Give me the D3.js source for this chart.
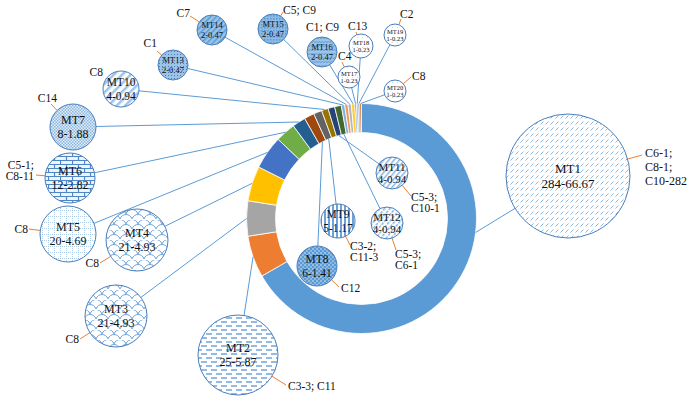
<!DOCTYPE html>
<html><head><meta charset="utf-8">
<script src="https://cdn.jsdelivr.net/npm/d3@7"></script>
<style>html,body{margin:0;padding:0;background:#fff;} svg{display:block;font-family:"Liberation Serif","Times New Roman",serif;}</style>
</head><body><svg id="c" width="690" height="402"></svg>
<script>
// ---- data ----
const types = ["MT1","MT2","MT3","MT4","MT5","MT6","MT7","MT8","MT9","MT10","MT11","MT12","MT13","MT14","MT15","MT16","MT17","MT18","MT19","MT20"];
const counts = [284,25,21,21,20,12,8,6,5,4,4,4,2,2,2,2,1,1,1,1];
const percents = ["66.67","5.87","4.93","4.93","4.69","2.82","1.88","1.41","1.17","0.94","0.94","0.94","0.47","0.47","0.47","0.47","0.23","0.23","0.23","0.23"];
const clusterLabels = [["C6-1;","C8-1;","C10-282"],["C3-3; C11"],["C8"],["C8"],["C8"],["C5-1;","C8-11"],["C14"],["C12"],["C3-2;","C11-3"],["C8"],["C5-3;","C10-1"],["C5-3;","C6-1"],["C1"],["C7"],["C5; C9"],["C1; C9"],["C4"],["C13"],["C2"],["C8"]];
const sliceColors = ["#5B9BD5","#ED7D31","#A5A5A5","#FFC000","#4472C4","#70AD47","#255E91","#9E480E","#636363","#997300","#264478","#43682B","#7CAFDD","#F1975A","#B7B7B7","#FFCD33","#698ED0","#8CC168","#327DC2","#D26012"];

// ---- layout (positions / styles) ----
const ring = {cx:361.5, cy:218.5, rIn:86, rOut:115};
const layout = [
 {cx:568, cy:176, r:62, fs:13, lab:[645,157,"start"], lh:14, lead:[642,155], at:0.404},
 {cx:238, cy:355, r:40, fs:12, lab:[288,390,"start"], lh:11, lead:[286,385]},
 {cx:116, cy:316, r:31, fs:12, lab:[79,343,"end"], lh:11, lead:[80,339]},
 {cx:137, cy:240, r:31, fs:12, lab:[99,267,"end"], lh:11, lead:[100,263]},
 {cx:68, cy:234, r:28, fs:12, lab:[28,233,"end"], lh:11, lead:[29,229]},
 {cx:70, cy:178, r:25, fs:12, lab:[34,169,"end"], lh:10.5, lead:[36,175]},
 {cx:73, cy:127, r:23, fs:12, lab:[57,102,"end"], lh:11, lead:[51,104]},
 {cx:317, cy:266, r:20, fs:11.5, lab:[341,292,"start"], lh:11, lead:[339,287], inner:true},
 {cx:338, cy:221, r:17, fs:11.5, lab:[350,250,"start"], lh:11, lead:[350,245], inner:true},
 {cx:121, cy:89, r:18, fs:11.5, lab:[103,76,"end"], lh:11, lead:[105,79]},
 {cx:392, cy:173, r:16, fs:11, lab:[411,201,"start"], lh:11, lead:[411,196], inner:true},
 {cx:387, cy:223, r:16, fs:11, lab:[395,258,"start"], lh:10.5, lead:[396,250], inner:true},
 {cx:173, cy:65, r:15, fs:8.5, lab:[157,47,"end"], lh:11, lead:[157,51]},
 {cx:212, cy:30, r:15, fs:8.5, lab:[190,17,"end"], lh:11, lead:[190,16]},
 {cx:273, cy:29, r:15, fs:8.5, lab:[283,14,"start"], lh:11, lead:[283,12]},
 {cx:322, cy:52, r:15, fs:8.5, lab:[306,31,"start"], lh:11, lead:null},
 {cx:349, cy:77, r:11, fs:6.5, lab:[338,60,"start"], lh:11, lead:[342,62]},
 {cx:361, cy:46, r:12, fs:6.5, lab:[348,30,"start"], lh:11, lead:[356,32]},
 {cx:395, cy:35, r:11, fs:6.5, lab:[400,18,"start"], lh:11, lead:[401,19]},
 {cx:395, cy:91, r:11, fs:6.5, lab:[412,80,"start"], lh:11, lead:[411,77]}
];
const LB = "#5B9BD5", OUT = "#4a7ebb", ORANGE = "#ED7D31";

const svg = d3.select("#c");
const defs = svg.append("defs");

function pat(id, w, h, bg, fn, tr){
  const p = defs.append("pattern").attr("id",id).attr("patternUnits","userSpaceOnUse").attr("width",w).attr("height",h);
  if(tr) p.attr("patternTransform",tr);
  p.append("rect").attr("width",w).attr("height",h).attr("fill",bg);
  fn(p);
}
const P = (p,d,c,sw,extra)=>{const e=p.append("path").attr("d",d).attr("fill","none").attr("stroke",c).attr("stroke-width",sw); if(extra) e.attr("stroke-dasharray",extra); return e;};
pat("p0",5,6,"#fff",p=>P(p,"M0.5,4.5 L3.5,1.5","#8ab6e0",1));
pat("p1",10,8,"#fff",p=>P(p,"M1,2h6M-4,6h6M6,6h6","#6fa3d8",1.3));
const shingle = p=>P(p,"M0,9 C2,3 10,3 12,9 M-6,4 C-4,-2 4,-2 6,4 M6,4 C8,-2 16,-2 18,4","#6fa3d8",1);
pat("p2",12,10,"#fff",shingle);
pat("p3",12,10,"#fff",shingle);
pat("p4",6,6,"#fff",p=>P(p,"M0,0.5h6M0.5,0v6","#9dc3e6",0.8,"1,1"));
pat("p5",12,8,"#eef4fb",p=>P(p,"M0,0.5h12M0,4.5h12M0.5,0.5v4M6.5,4.5v4","#4f86c6",1.2));
pat("p6",3,3,"#e3eef9",p=>{p.append("rect").attr("width",1.5).attr("height",1.5).attr("fill","#8ab6e0");p.append("rect").attr("x",1.5).attr("y",1.5).attr("width",1.5).attr("height",1.5).attr("fill","#8ab6e0");});
pat("p7",4,4,"#5B9BD5",p=>{p.append("circle").attr("cx",1).attr("cy",1).attr("r",0.7).attr("fill","#fff");p.append("circle").attr("cx",3).attr("cy",3).attr("r",0.7).attr("fill","#dfeaf6");});
pat("p8",4,4,"#fff",p=>p.append("rect").attr("width",2).attr("height",4).attr("fill","#6fa3d8"));
pat("p9",6,6,"#fff",p=>p.append("rect").attr("width",2.5).attr("height",6).attr("fill","#9dc3e6"),"rotate(45)");
pat("p10",4,4,"#fff",p=>p.append("rect").attr("width",1.5).attr("height",4).attr("fill","#8ab6e0"),"rotate(40)");
pat("p11",4,4,"#fff",p=>p.append("rect").attr("width",1.5).attr("height",3).attr("fill","#8ab6e0"),"rotate(40)");
pat("p12",3,3,"#9dc3e6",p=>p.append("rect").attr("width",1).attr("height",1).attr("fill","#4a7ebb"));
pat("p13",4,4,"#9dc3e6",p=>p.append("rect").attr("width",1.5).attr("height",4).attr("fill","#5B9BD5"),"rotate(45)");
pat("p14",3,3,"#8dbbe4",p=>{p.append("rect").attr("width",1.5).attr("height",1.5).attr("fill","#5B9BD5");});
pat("p15",6,4,"#9dc3e6",p=>P(p,"M0,3 L1.5,1 L3,3 L4.5,1 L6,3","#5B9BD5",0.8));
for(let i=16;i<20;i++) pat("p"+i,5,5,"#fff",p=>p.append("rect").attr("x",2).attr("y",2).attr("width",0.8).attr("height",0.8).attr("fill","#9dc3e6"));

// ---- donut ----
const pie = d3.pie().sort(null).value(d=>d);
const arcs = pie(counts);
const arc = d3.arc().innerRadius(ring.rIn).outerRadius(ring.rOut);
const g = svg.append("g").attr("transform",`translate(${ring.cx},${ring.cy})`);
g.selectAll("path").data(arcs).join("path").attr("d",arc)
  .attr("fill",(d,i)=>sliceColors[i]).attr("stroke","#fff").attr("stroke-width",0.8);

// ---- connectors ----
const ptOnRing = (a,r)=>[ring.cx + r*Math.sin(a), ring.cy - r*Math.cos(a)];
const conn = svg.append("g");
arcs.forEach((d,i)=>{
  const L = layout[i];
  const f = L.at!==undefined ? L.at : 0.5;
  const a = d.startAngle + (d.endAngle-d.startAngle)*f;
  const [ax,ay] = ptOnRing(a, L.inner ? ring.rIn : ring.rOut);
  const dx = ax-L.cx, dy = ay-L.cy, len = Math.hypot(dx,dy);
  conn.append("line").attr("x1",L.cx+dx/len*L.r).attr("y1",L.cy+dy/len*L.r)
    .attr("x2",ax).attr("y2",ay).attr("stroke",LB).attr("stroke-width",1);
});

// ---- bubbles ----
const bg = svg.append("g");
types.forEach((t,i)=>{
  const L = layout[i];
  if(L.lead){
    const dx = L.lead[0]-L.cx, dy = L.lead[1]-L.cy, len=Math.hypot(dx,dy);
    bg.append("line").attr("x1",L.cx+dx/len*L.r).attr("y1",L.cy+dy/len*L.r)
      .attr("x2",L.lead[0]).attr("y2",L.lead[1]).attr("stroke",ORANGE).attr("stroke-width",1);
  }
  bg.append("circle").attr("cx",L.cx).attr("cy",L.cy).attr("r",L.r)
    .attr("fill",`url(#p${i})`).attr("stroke",OUT).attr("stroke-width",1);
  const lh = L.fs*1.15, b1 = L.cy - lh/2 + L.fs*0.35;
  const tx = bg.append("text").attr("text-anchor","middle").attr("font-size",L.fs).attr("fill","#111");
  tx.append("tspan").attr("x",L.cx).attr("y",b1).text(t);
  tx.append("tspan").attr("x",L.cx).attr("y",b1+lh).text(counts[i]+"-"+percents[i]);
  const ct = bg.append("text").attr("text-anchor",L.lab[2]).attr("font-size", i===0?12:11.5).attr("fill","#111");
  clusterLabels[i].forEach((s,k)=>ct.append("tspan").attr("x",L.lab[0]).attr("y",L.lab[1]+k*L.lh).text(s));
});
</script></body></html>
